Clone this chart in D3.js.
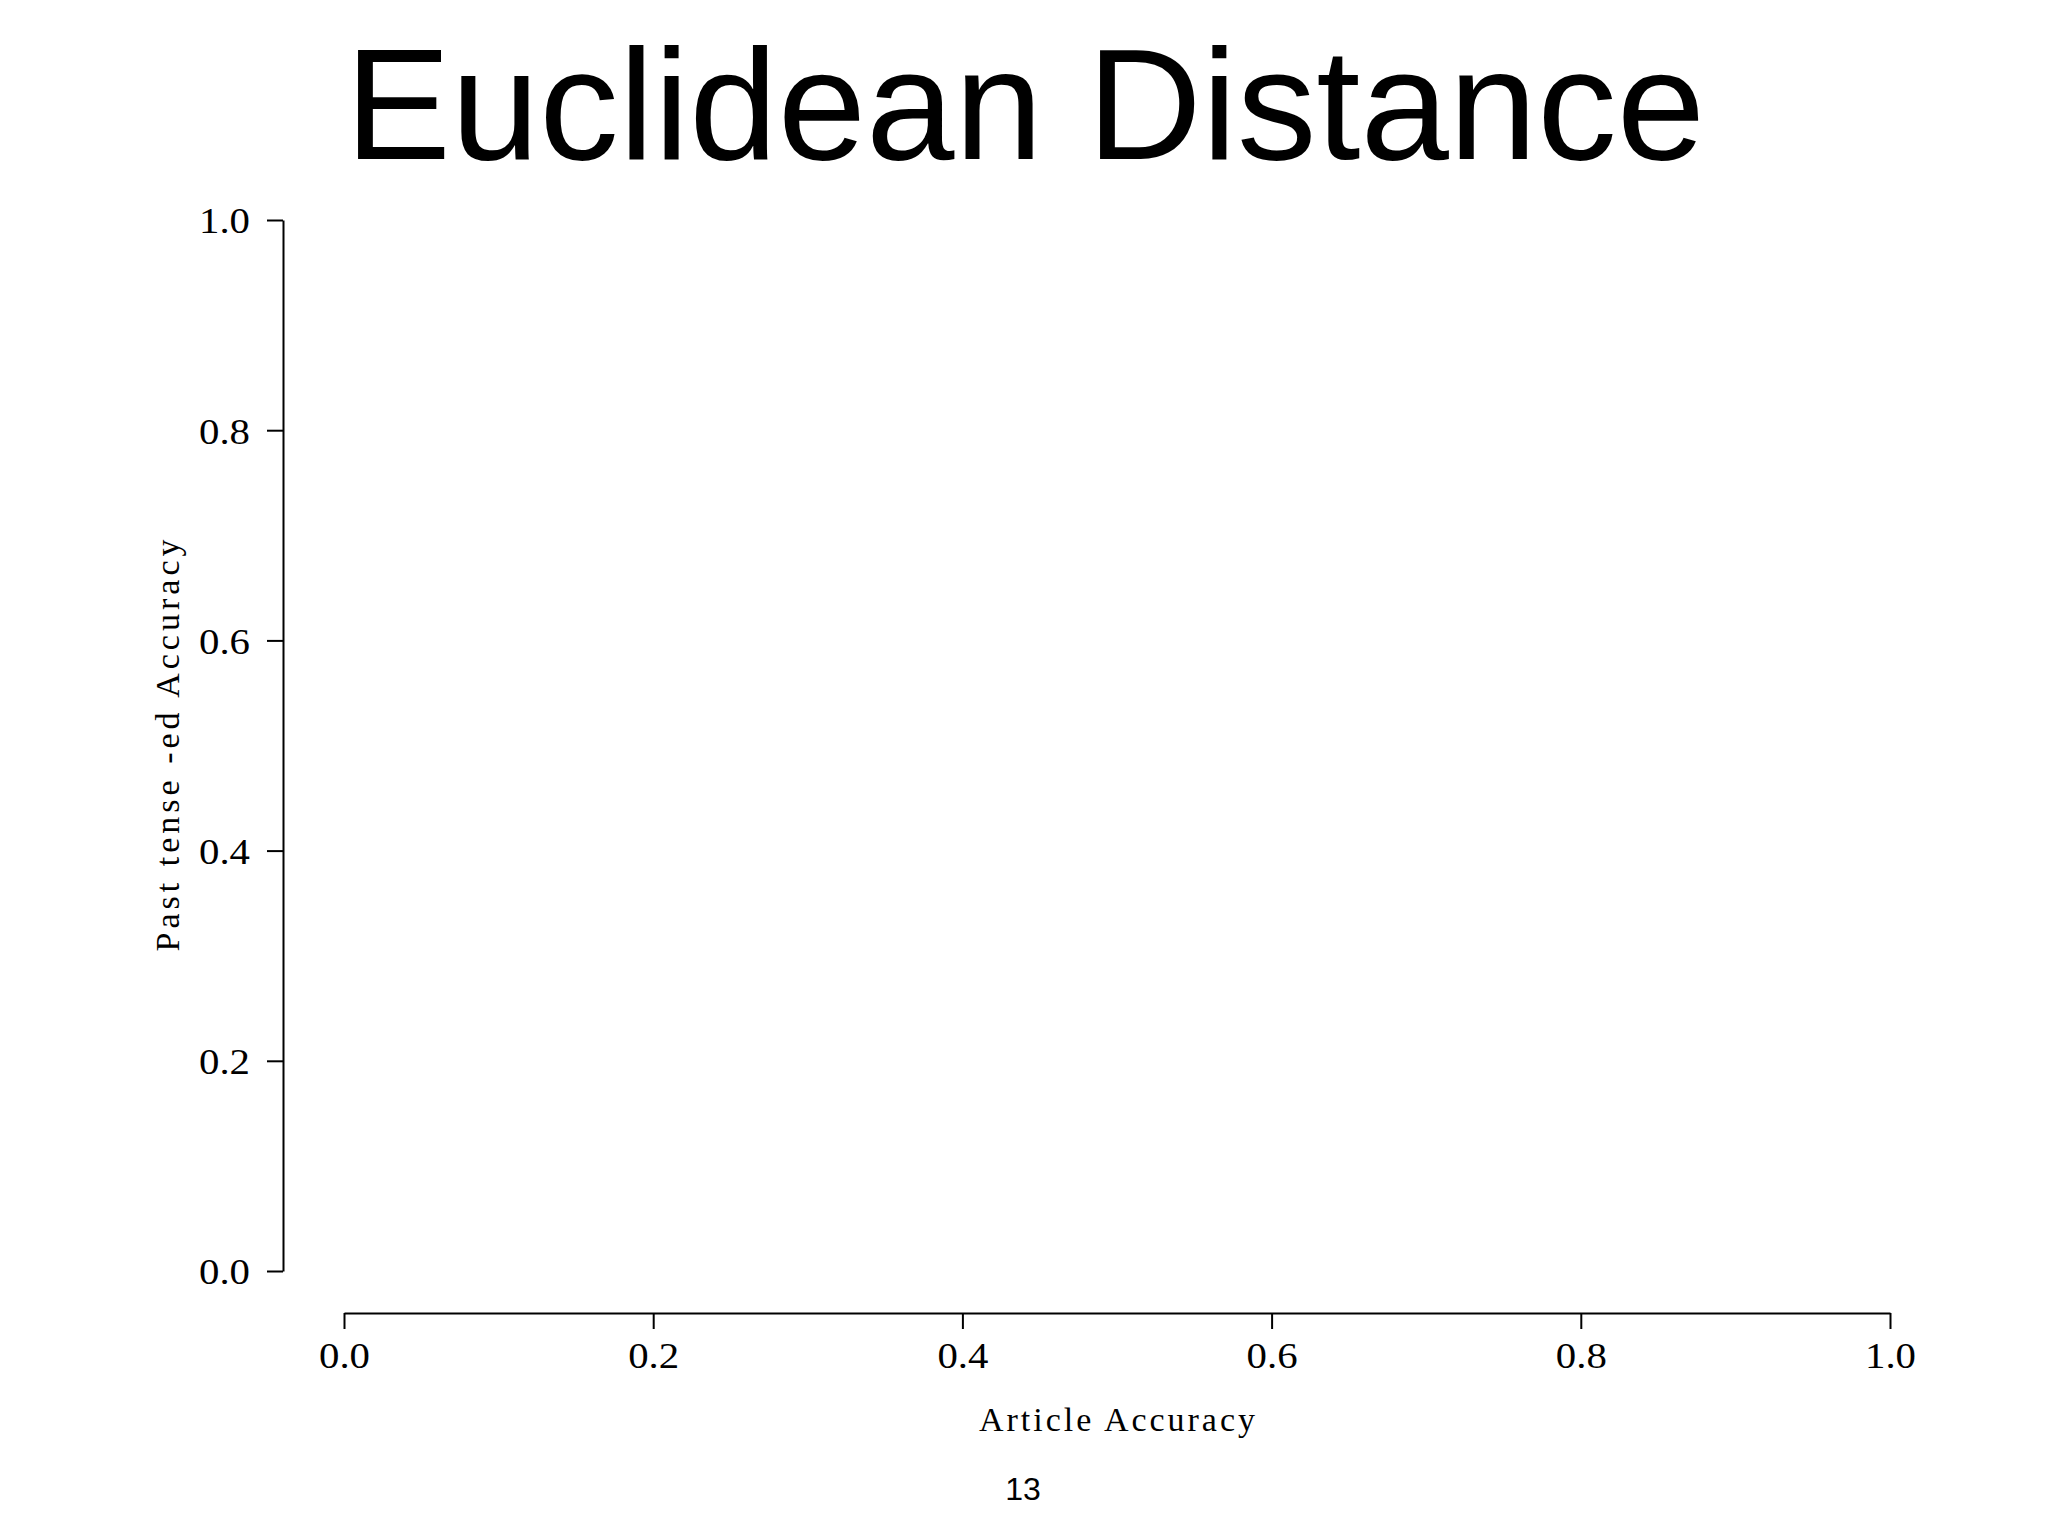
<!DOCTYPE html>
<html>
<head>
<meta charset="utf-8">
<script src="https://cdn.jsdelivr.net/npm/d3@7"></script>
<style>
  body { margin:0; background:#fff; }
  .tick text { font-family:"Liberation Serif", serif; fill:#000; }
  .domain, .tick line { stroke:#000; stroke-width:2; }
</style>
</head>
<body>
<svg></svg>
<script>
// chart content
var titleText = "Euclidean Distance";
var xLabelText = "Article Accuracy";
var yLabelText = "Past tense -ed Accuracy";
var pageNumber = "13";
var xTickValues = [0, 0.2, 0.4, 0.6, 0.8, 1.0];
var yTickValues = [0, 0.2, 0.4, 0.6, 0.8, 1.0];
var xTickLabels = ["0.0", "0.2", "0.4", "0.6", "0.8", "1.0"];
var yTickLabels = ["0.0", "0.2", "0.4", "0.6", "0.8", "1.0"];
var points = []; // the plot area is empty

var initGraph = function()
{
    var screen = {width:2048, height:1536};
    // plot region in page pixels
    var plot = {left:344, right:1890, top:220, bottom:1271};
    var yAxisX = 283;
    var xAxisY = 1313;

    var svg = d3.select("svg")
        .attr("width", screen.width)
        .attr("height", screen.height);

    var xScale = d3.scaleLinear()
        .domain([0, 1])
        .range([plot.left, plot.right]);

    var yScale = d3.scaleLinear()
        .domain([0, 1])
        .range([plot.bottom, plot.top]);

    // title
    svg.append("text")
        .text(titleText)
        .attr("x", 1025)
        .attr("y", 159)
        .attr("text-anchor", "middle")
        .style("font-family", "'Liberation Sans', Arial, sans-serif")
        .style("font-size", "158px")
        .attr("textLength", 1360)
        .attr("lengthAdjust", "spacingAndGlyphs");

    // x axis
    var xAxis = d3.axisBottom(xScale)
        .tickValues(xTickValues)
        .tickFormat(function(d, i) { return xTickLabels[i]; })
        .tickSizeInner(16)
        .tickSizeOuter(0)
        .tickPadding(13);

    var gx = svg.append("g")
        .attr("transform", "translate(0," + xAxisY + ")")
        .call(xAxis);
    gx.selectAll(".tick text")
        .style("font-size", "36px")
        .attr("textLength", 51)
        .attr("lengthAdjust", "spacingAndGlyphs");

    // y axis
    var yAxis = d3.axisLeft(yScale)
        .tickValues(yTickValues)
        .tickFormat(function(d, i) { return yTickLabels[i]; })
        .tickSizeInner(16)
        .tickSizeOuter(0)
        .tickPadding(17);

    var gy = svg.append("g")
        .attr("transform", "translate(" + yAxisX + ",0)")
        .call(yAxis);
    gy.selectAll(".tick text")
        .style("font-size", "36px")
        .attr("dy", "0.36em")
        .attr("textLength", 51)
        .attr("lengthAdjust", "spacingAndGlyphs");

    gx.select(".domain").attr("fill", "none");
    gy.select(".domain").attr("fill", "none");

    // points (none in the reference)
    svg.append("g")
        .selectAll("circle")
        .data(points)
        .enter()
        .append("circle")
        .attr("cx", function(p) { return xScale(p.x); })
        .attr("cy", function(p) { return yScale(p.y); })
        .attr("r", 6);

    // axis titles
    svg.append("text")
        .text(xLabelText)
        .attr("x", (plot.left + plot.right) / 2)
        .attr("y", 1431)
        .attr("text-anchor", "middle")
        .style("font-family", "'Liberation Serif', serif")
        .style("font-size", "34px")
        .attr("textLength", 276)
        .attr("lengthAdjust", "spacing");

    svg.append("g")
        .attr("transform", "translate(179," + ((plot.top + plot.bottom) / 2) + ")")
        .append("text")
        .text(yLabelText)
        .attr("transform", "rotate(-90)")
        .attr("text-anchor", "middle")
        .style("font-family", "'Liberation Serif', serif")
        .style("font-size", "34px")
        .attr("textLength", 412)
        .attr("lengthAdjust", "spacing");

    // page number
    svg.append("text")
        .text(pageNumber)
        .attr("x", 1023)
        .attr("y", 1500)
        .attr("text-anchor", "middle")
        .style("font-family", "'Liberation Sans', Arial, sans-serif")
        .style("font-size", "32px");
}

initGraph();
</script>
</body>
</html>
